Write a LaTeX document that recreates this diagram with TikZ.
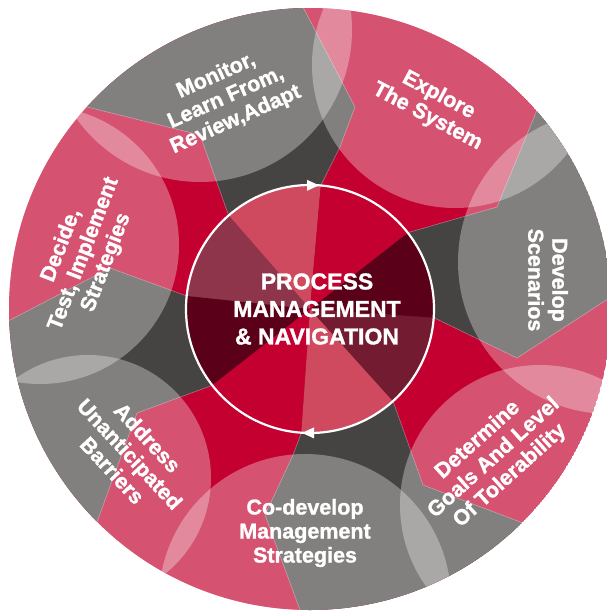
\documentclass[tikz,border=0pt]{standalone}
\usepackage{fontspec}
\setmainfont{Liberation Sans}[BoldFeatures={FakeBold=1.3}]
\begin{document}
\begin{tikzpicture}[x=1pt,y=-1pt]
\definecolor{crim}{HTML}{C3002F}
\definecolor{dgray}{HTML}{464442}
\definecolor{inlight}{HTML}{CF4A5E}
\definecolor{indark}{HTML}{5A0018}
\definecolor{inplum}{HTML}{731B30}
\definecolor{inmuted}{HTML}{8E354B}
\tikzset{
  lbl/.style={text=white, font=\bfseries\fontsize{21.5}{24}\selectfont, align=center, inner sep=0pt},
  ctr/.style={text=white, font=\bfseries\fontsize{23}{27.5}\selectfont, align=center, inner sep=0pt},
  veil/.style={fill=white, fill opacity=0.32},
  seam/.style={draw=white, draw opacity=0.35, line width=0.6pt},
}
\useasboundingbox (0,0) rectangle (606,611);
\coordinate (C) at (310,309);
\begin{scope}
  \clip (C) circle (301);
  \fill[crim] (C) circle (301);
  % dark gray sectors
  \fill[dgray] (C) -- (320.8,185.5) -- (340,147) -- (355,107) -- (303,7) -- (282,-33) -- (140,-161) -- (42,96) -- (87,107) -- (200,135) -- (228.6,215.4) -- cycle;
  \fill[dgray] (C) -- (407.7,232.7) -- (497,207) -- (537,110) -- (553,71) -- (789,163) -- (649,273) -- (611,297) -- (517,358) -- (433.7,317.6) -- cycle;
  \fill[dgray] (C) -- (393,401) -- (423,485) -- (523,523) -- (563,538) -- (482,779) -- (312,649) -- (300,610) -- (265,515) -- (293,455) -- (301.4,432.7) -- cycle;
  \fill[dgray] (C) -- (212.3,385.3) -- (137,413) -- (97,522) -- (81,566) -- (-167,455) -- (-30,341) -- (10,320) -- (110,268) -- (186.7,296) -- cycle;
  % translucent circles
  \fill[veil] (200,30) circle (152);
  \fill[veil] (455,65) circle (143);
  \fill[veil] (610,262) circle (152);
  \fill[veil] (540,505) circle (140);
  \fill[veil] (305,600) circle (146);
  \fill[veil] (88,478) circle (123);
  \fill[veil] (40,245) circle (139);
  % seams
  \draw[seam] (320.8,185.5) -- (340,147) -- (355,107) -- (303,7) -- (282,-33);
  \draw[seam] (407.7,232.7) -- (497,207) -- (537,110) -- (553,71);
  \draw[seam] (433.7,317.6) -- (517,358) -- (611,297) -- (649,273);
  \draw[seam] (393,401) -- (423,485) -- (523,523) -- (563,538);
  \draw[seam] (301.4,432.7) -- (293,455) -- (265,515) -- (300,610) -- (312,649);
  \draw[seam] (212.3,385.3) -- (137,413) -- (97,522) -- (81,566);
  \draw[seam] (186.7,296) -- (110,268) -- (10,320) -- (-30,341);
  \draw[seam] (228.6,215.4) -- (200,135) -- (87,107) -- (42,96);
\end{scope}
% inner hub
\begin{scope}
  \clip (C) circle (124);
  \fill[inlight] (C) -- (327.4,109.8) -- (178.8,158.1) -- cycle;
  \fill[inmuted] (C) -- (178.8,158.1) -- (111.1,288.1) -- cycle;
  \fill[indark] (C) -- (111.1,288.1) -- (152.4,432.1) -- cycle;
  \fill[crim] (C) -- (152.4,432.1) -- (296,508.5) -- cycle;
  \fill[inlight] (C) -- (296,508.5) -- (443.8,457.6) -- cycle;
  \fill[inplum] (C) -- (443.8,457.6) -- (509.5,323) -- cycle;
  \fill[indark] (C) -- (509.5,323) -- (467.6,185.9) -- cycle;
  \fill[crim] (C) -- (467.6,185.9) -- (327.4,109.8) -- cycle;
\end{scope}
\draw[white, line width=2.2pt] (C) circle (124);
\fill[white] (319,185.3) -- (307,179.8) -- (307,190.8) -- cycle;
\fill[white] (302,432.9) -- (314,427.4) -- (314,438.4) -- cycle;
% labels
\node[ctr] (hub) at (317,309) {PROCESS\\MANAGEMENT\\\& NAVIGATION};
\node[lbl, rotate=24] (monitor) at (226,98) {Monitor,\\Learn From,\\Review,Adapt};
\node[lbl, rotate=-28] (explore) at (433,106) {Explore\\The System};
\node[lbl, rotate=-90] (develop) at (548,280) {Develop\\Scenarios};
\node[lbl, rotate=42] (determine) at (494,458) {Determine\\Goals And Level\\Of Tolerability};
\node[lbl] (codevelop) at (305,533) {Co-develop\\Management\\Strategies};
\node[lbl, rotate=-47] (address) at (130,454) {Address\\Unanticipated\\Barriers};
\node[lbl, rotate=69] (decide) at (84,254) {Decide,\\Test, Implement\\Strategies};
\end{tikzpicture}
\end{document}
